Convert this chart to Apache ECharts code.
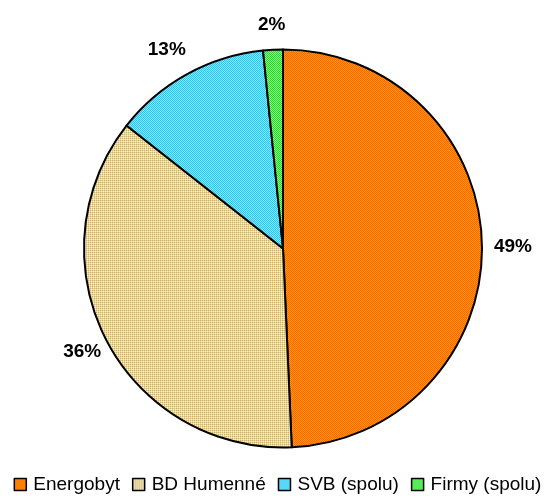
<!DOCTYPE html>
<html>
<head>
<meta charset="utf-8">
<script src="https://cdn.jsdelivr.net/npm/echarts@6/dist/echarts.min.js"></script>
<style>
  html, body { margin: 0; padding: 0; background: #fff; }
  #pie { width: 555px; height: 498px; }
</style>
</head>
<body>
<div id="pie"></div>
<script>
// podiel odberatelov
var categories = ["Energobyt", "BD Humenné", "SVB (spolu)", "Firmy (spolu)"];
var values = [49.3, 36.3, 12.8, 1.6];

// 2x2 pixel patterns like the excel fills
function pattern(c00, c10, c01, c11) {
  var cv = document.createElement("canvas");
  cv.width = 2;
  cv.height = 2;
  var ctx = cv.getContext("2d");
  ctx.fillStyle = c00; ctx.fillRect(0, 0, 1, 1);
  ctx.fillStyle = c10; ctx.fillRect(1, 0, 1, 1);
  ctx.fillStyle = c01; ctx.fillRect(0, 1, 1, 1);
  ctx.fillStyle = c11; ctx.fillRect(1, 1, 1, 1);
  return { image: cv, repeat: "repeat" };
}

var fills = [
  pattern("#FF6600", "#FF9900", "#FF9900", "#FF6600"),
  pattern("#D6AE5E", "#E0D8A6", "#E0D8A6", "#F4F1DA"),
  pattern("#1EC8F5", "#8AEBFF", "#8AEBFF", "#1EC8F5"),
  pattern("#22D822", "#8CFF8C", "#8CFF8C", "#22D822")
];

// posuny popiskov, aby sedeli ako v exceli
var labelOffsets = [[-4, 3], [10, 7], [9, -15], [18, -14]];

var chart = echarts.init(document.getElementById("pie"));

var seriesData = categories.map(function (name, i) {
  return {
    name: name,
    value: values[i],
    itemStyle: { color: fills[i] },
    label: { offset: labelOffsets[i] }
  };
});

var option = {
  animation: false,
  backgroundColor: "#fff",
  textStyle: { fontFamily: "Liberation Sans, Arial, sans-serif" },
  legend: {
    left: "center",
    top: 475,
    icon: "rect",
    itemWidth: 12,
    itemHeight: 12,
    itemGap: 12,
    padding: 0,
    itemStyle: { borderColor: "#000", borderWidth: 1.5 },
    textStyle: {
      color: "#000",
      fontSize: 19,
      fontFamily: "Liberation Sans, Arial, sans-serif",
      padding: [0, 0, 0, 2]
    },
    data: categories
  },
  series: [
    {
      type: "pie",
      center: [283, 248.5],
      radius: [0, 199],
      startAngle: 90,
      clockwise: true,
      avoidLabelOverlap: false,
      itemStyle: { borderColor: "#000", borderWidth: 2 },
      emphasis: { disabled: true },
      label: {
        show: true,
        position: "outside",
        color: "#000",
        fontSize: 19,
        fontWeight: "bold",
        fontFamily: "Liberation Sans, Arial, sans-serif",
        formatter: function (p) {
          return Math.round(p.percent) + "%";
        }
      },
      labelLine: { show: false, length: 11, length2: 0 },
      data: seriesData
    }
  ]
};
chart.setOption(option);
</script>
</body>
</html>
